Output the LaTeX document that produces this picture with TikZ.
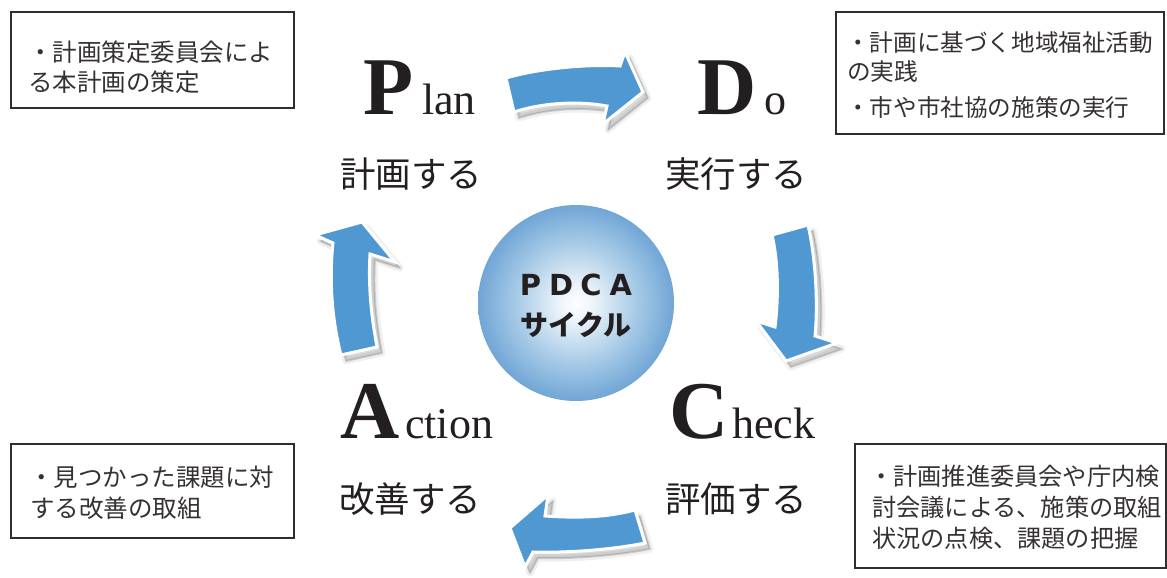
\documentclass[tikz,border=0pt]{standalone}
\usepackage{fontspec}
\setmainfont{Liberation Serif}
\newfontfamily\jpfont{Noto Sans CJK JP}
\newfontfamily\latsans{DejaVu Sans}
\definecolor{arrowblue}{HTML}{4F98D2}
\definecolor{ballblue}{HTML}{5A96CE}
\definecolor{ballmid}{HTML}{A3C8E6}
\definecolor{balllight}{HTML}{EEF5FA}
\definecolor{ink}{HTML}{231F20}
\definecolor{frame}{HTML}{2E2E2E}
\pgfdeclareradialshading{ballshade}{\pgfpoint{0bp}{0bp}}{color(0bp)=(white); color(4bp)=(balllight); color(16bp)=(ballmid); color(29bp)=(ballblue); color(50bp)=(ballblue)}
\tikzset{
  bigletter/.style={inner sep=0, anchor=base west, text=ink, font=\fontsize{82}{82}\selectfont\bfseries},
  smallword/.style={inner sep=0, anchor=base west, text=ink, font=\fontsize{44}{44}\selectfont},
  jplabel/.style={inner sep=0, anchor=base, text=ink, font=\jpfont\fontsize{35.5}{35.5}\selectfont},
  infobox/.style={draw=frame, line width=2pt, inner sep=0, anchor=north west},
  infoline/.style={inner sep=0, anchor=base west, text=ink!92, font=\jpfont\fontsize{#1}{#1}\selectfont},
  infoline/.default=24.5,
  cyclearrow/.style={fill=arrowblue, draw=white, line width=3pt, line join=miter, miter limit=10},
  shadowsoft/.style={draw=black, line width=7pt, line join=round, opacity=0.06, shift={(5,6)}},
  shadowcore/.style={fill=black, draw=black, line width=2pt, line join=round, opacity=0.14, shift={(5,6)}}
}
\def\arrowtop{(506,78) .. controls (540,68) and (590,64) .. (620,66) -- (625,52) -- (643,92) -- (603,124) -- (607,106) .. controls (580,101) and (545,102) .. (514,112) -- cycle}
\def\arrowright{(808,225) .. controls (816,260) and (818,305) .. (815,336) -- (837,343) -- (786,361) -- (756,321) -- (775,327) .. controls (779,295) and (778,260) .. (772,235) -- cycle}
\def\arrowbottom{(645,543) .. controls (610,550) and (565,553) .. (533,552) -- (525,567) -- (510,528) -- (548,495) -- (545,516) .. controls (575,518) and (605,518) .. (635,510) -- cycle}
\def\arrowleft{(341,355) .. controls (332,320) and (329,280) .. (333,243) -- (315,235) -- (362,222) -- (395,262) -- (370,254) .. controls (368,290) and (372,320) .. (377,347) -- cycle}
\begin{document}
\begin{tikzpicture}[x=1pt, y=-1pt]
\useasboundingbox (0,0) rectangle (1167,578);
% info boxes
\node[infobox, minimum width=283, minimum height=96] (box1) at (10,11) {};
\node[infobox, minimum width=328, minimum height=122] (box2) at (835,11) {};
\node[infobox, minimum width=283, minimum height=94] (box3) at (10,443) {};
\node[infobox, minimum width=311, minimum height=124] (box4) at (854,443) {};
\node[infoline] (b1a) at (28,62) {・計画策定委員会によ};
\node[infoline] (b1b) at (28,92) {る本計画の策定};
\node[infoline=23.6] (b2a) at (846,52) {・計画に基づく地域福祉活動};
\node[infoline=23.6] (b2b) at (847,81) {の実践};
\node[infoline=23.6] (b2c) at (846,116) {・市や市社協の施策の実行};
\node[infoline] (b3a) at (29,486) {・見つかった課題に対};
\node[infoline] (b3b) at (30,517) {する改善の取組};
\node[infoline=24.2] (b4a) at (869,485) {・計画推進委員会や庁内検};
\node[infoline=24.2] (b4b) at (872,516) {討会議による、施策の取組};
\node[infoline=24.2] (b4c) at (872,547) {状況の点検、課題の把握};
% arrows
\foreach \ap in {\arrowtop,\arrowright,\arrowbottom,\arrowleft}{
  \path[shadowsoft] \ap;
  \path[shadowcore] \ap;
  \path[cyclearrow] \ap;
}
% centre ball
\node[circle, minimum size=196, inner sep=0, shading=ballshade] (ball) at (576,303) {};
\node[inner sep=0, text=ink, font=\latsans\bfseries\fontsize{29}{29}\selectfont] (pdca) at (576,285) {P\kern8pt D\kern7pt C\kern8pt A};
\node[inner sep=0, text=ink, font=\jpfont\bfseries\fontsize{28}{28}\selectfont] (cycle) at (576,325) {サイクル};
% labels
\node[bigletter] (P) at (363,114) {P};
\node[smallword] (lan) at (422,114) {lan};
\node[jplabel] (plan) at (411,187.5) {計画する};
\node[bigletter] (D) at (697,114) {D};
\node[smallword] (o) at (764,114) {o};
\node[jplabel] (do) at (736,187.5) {実行する};
\node[bigletter] (A) at (340,438) {A};
\node[smallword] (ction) at (405,438) {ction};
\node[jplabel] (act) at (410,512) {改善する};
\node[bigletter] (C) at (669,438) {C};
\node[smallword] (heck) at (732,438) {heck};
\node[jplabel] (chk) at (736,512) {評価する};
\end{tikzpicture}
\end{document}
